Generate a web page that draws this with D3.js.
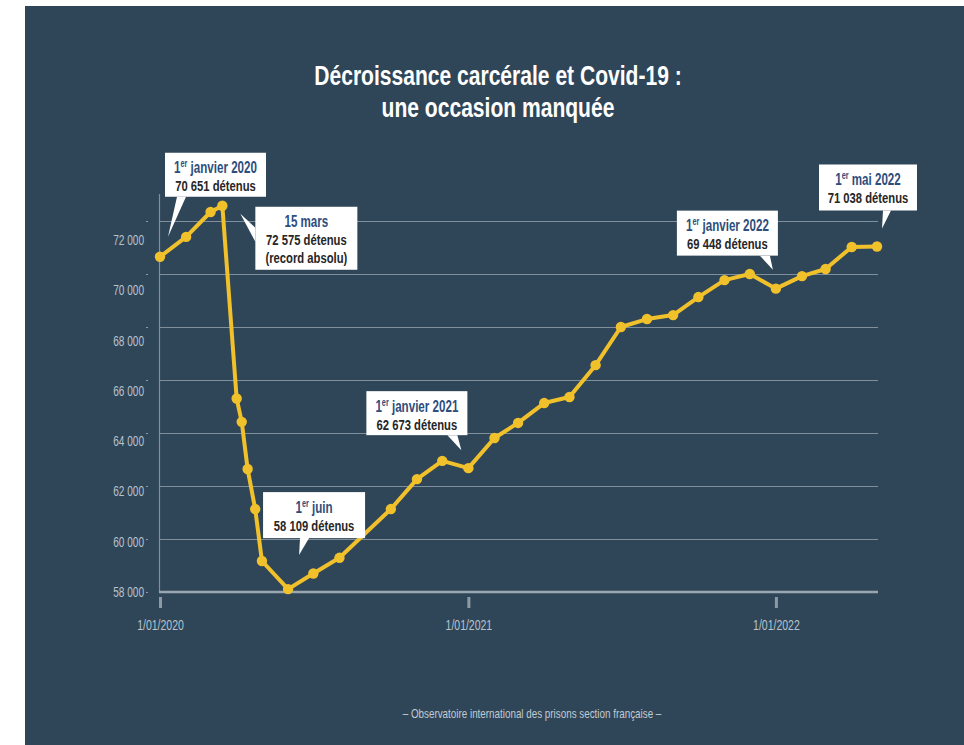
<!DOCTYPE html>
<html lang="fr">
<head>
<meta charset="utf-8">
<script src="https://cdn.jsdelivr.net/npm/d3@7"></script>
<style>
  html, body { margin: 0; padding: 0; background: #ffffff; }
  svg { display: block; }
  svg text { font-family: "Liberation Sans", Arial, sans-serif; }
</style>
</head>
<body>
<script>
// ---------------- DATA ----------------
const titleLines = ["Décroissance carcérale et Covid-19 :", "une occasion manquée"];
const sourceText = "– Observatoire international des prisons section française –";

const dates = [
  "2020-01-01","2020-02-01","2020-03-01","2020-03-15","2020-04-01","2020-04-07","2020-04-14","2020-04-23","2020-05-01",
  "2020-06-01","2020-07-01","2020-08-01","2020-10-01","2020-11-01","2020-12-01",
  "2021-01-01","2021-02-01","2021-03-01","2021-04-01","2021-05-01","2021-06-01","2021-07-01","2021-08-01",
  "2021-09-01","2021-10-01","2021-11-01","2021-12-01",
  "2022-01-01","2022-02-01","2022-03-01","2022-04-01","2022-05-01"
];
const prisoners = [
  70651, 71400, 72340, 72575, 65300, 64420, 62640, 61130, 59170,
  58109, 58700, 59290, 61130, 62260, 62950,
  62673, 63810, 64380, 65130, 65360, 66560, 68000, 68300,
  68450, 69130, 69770, 70000,
  69448, 69920, 70190, 71020, 71038
];

const yTicks = [58000, 60000, 62000, 64000, 66000, 68000, 70000, 72000];
const xTicks = ["2020-01-01", "2021-01-01", "2022-01-01"];

const annotDates = ["2020-01-01", "2020-03-15", "2020-06-01", "2021-01-01", "2022-01-01", "2022-05-01"];
const annotHeads = ["1er janvier 2020", "15 mars", "1er juin", "1er janvier 2021", "1er janvier 2022", "1er mai 2022"];
const annotExtra = ["", "(record absolu)", "", "", "", ""];

// ---------------- LAYOUT ----------------
const W = 964, H = 745;
const calloutLayout = [
  { dx: 5,    dy: -104, w: 101, h: 44, tip: [8, -20],  base: [[12, 44], [21, 44]] },
  { dx: 33,   dy: 1,    w: 102, h: 63, tip: [18, 8],   base: [[0, 21], [0, 35]] },
  { dx: -25,  dy: -97,  w: 102, h: 46, tip: [11, -34], base: [[37, 46], [46, 46]] },
  { dx: -102, dy: -77,  w: 101, h: 44, tip: [-7, -18], base: [[81, 44], [91, 44]] },
  { dx: -99,  dy: -78,  w: 101, h: 45, tip: [-3, -19], base: [[83, 45], [93, 45]] },
  { dx: -58,  dy: -82,  w: 98,  h: 46, tip: [5, -18],  base: [[64, 46], [72, 46]] }
];

const parse = d3.timeParse("%Y-%m-%d");
const fr = d3.formatLocale({ decimal: ",", thousands: "\u00a0", grouping: [3], currency: ["", " €"] });
const fmt = fr.format(",d");

// horizontal squeeze imitating the condensed typeface of the original
function squeeze(sel, s) {
  sel.each(function () {
    const t = d3.select(this);
    const tx = +t.attr("x") || 0, ty = +t.attr("y") || 0;
    t.attr("x", 0).attr("y", 0).attr("transform", `translate(${tx},${ty}) scale(${s},1)`);
  });
}

const data = dates.map((d, i) => ({ date: parse(d), value: prisoners[i] }));

const svg = d3.select("body").append("svg").attr("width", W).attr("height", H);

// panel
svg.append("rect").attr("x", 25).attr("y", 6).attr("width", W - 25).attr("height", H - 6).attr("fill", "#2f4659");

// scales
const x = d3.scaleTime().domain([parse("2020-01-01"), parse("2022-05-01")]).range([160, 877]);
const y = d3.scaleLinear().domain([58000, 72000]).range([592, 221]);
const yLab = d3.scaleLinear().domain([58000, 72000]).range([592, 240]);

// gridlines
const grid = svg.append("g").attr("transform", `translate(159,0)`)
  .call(d3.axisRight(y).tickValues(yTicks.slice(1)).tickSize(719).tickFormat(""));
grid.select(".domain").remove();
grid.selectAll(".tick line").attr("stroke", "#7f8f9c").attr("stroke-width", 1.2);

// small tick marks at gridline positions
const smallT = svg.append("g").attr("transform", `translate(146,0)`)
  .call(d3.axisRight(y).tickValues(yTicks).tickSize(2).tickFormat(""));
smallT.select(".domain").remove();
smallT.selectAll(".tick line").attr("stroke", "#8d9aa5").attr("stroke-width", 1);

// vertical axis line
svg.append("line").attr("x1", 159.5).attr("x2", 159.5).attr("y1", 194).attr("y2", y(58000))
  .attr("stroke", "#7f8f9c").attr("stroke-width", 1.2);

// baseline
svg.append("line").attr("x1", 159).attr("x2", 878).attr("y1", y(58000)).attr("y2", y(58000))
  .attr("stroke", "#9aa6b0").attr("stroke-width", 2.4);

// y labels
const yAx = svg.append("g").attr("transform", "translate(144,0)")
  .call(d3.axisLeft(yLab).tickValues(yTicks).tickSize(0).tickPadding(0).tickFormat(d => fmt(d)));
yAx.select(".domain").remove();
yAx.attr("font-family", null);
yAx.selectAll("text").attr("fill", "#b9c3cc").attr("font-size", 14).call(squeeze, 0.72);

// x axis
const xAx = svg.append("g").attr("transform", `translate(0,597)`)
  .call(d3.axisBottom(x).tickValues(xTicks.map(parse)).tickSize(11).tickPadding(12)
    .tickFormat(d3.timeFormat("%-d/%m/%Y")));
xAx.select(".domain").remove();
xAx.attr("font-family", null);
xAx.selectAll(".tick line").attr("stroke", "#8d9aa5").attr("stroke-width", 3);
xAx.selectAll("text").attr("fill", "#b9c3cc").attr("font-size", 14).call(squeeze, 0.75);

// line
const line = d3.line().x(d => x(d.date)).y(d => y(d.value));
svg.append("path").datum(data).attr("d", line).attr("fill", "none")
  .attr("stroke", "#f1c12c").attr("stroke-width", 4).attr("stroke-linejoin", "round");
svg.append("g").selectAll("circle").data(data).join("circle")
  .attr("cx", d => x(d.date)).attr("cy", d => y(d.value)).attr("r", 5.2).attr("fill", "#f1c12c");

// title
svg.append("g").selectAll("text").data(titleLines).join("text")
  .attr("x", 498).attr("y", (d, i) => 85 + i * 32).attr("text-anchor", "middle")
  .attr("fill", "#ffffff").attr("font-weight", "bold").attr("font-size", 27)
  .text(d => d).call(squeeze, 0.78);

// source
svg.append("text").attr("x", 532).attr("y", 718).attr("text-anchor", "middle")
  .attr("fill", "#c2cad2").attr("font-size", 12).text(sourceText).call(squeeze, 0.82);

// callouts
annotDates.forEach((ds, i) => {
  const d = data.find(p => +p.date === +parse(ds));
  const L = calloutLayout[i];
  const px = x(d.date), py = y(d.value);
  const bx = px + L.dx, by = py + L.dy;
  const g = svg.append("g");
  g.append("rect").attr("x", bx).attr("y", by).attr("width", L.w).attr("height", L.h).attr("fill", "#ffffff");
  const pts = [[bx + L.base[0][0], by + L.base[0][1]], [px + L.tip[0], py + L.tip[1]], [bx + L.base[1][0], by + L.base[1][1]]];
  g.append("path").attr("d", "M" + pts.map(p => p.join(",")).join("L") + "Z").attr("fill", "#ffffff");
  const cx = bx + L.w / 2;
  const head = annotHeads[i];
  const t1 = g.append("text").attr("x", cx).attr("y", by + 20.5).attr("text-anchor", "middle")
    .attr("fill", "#2d4d7c").attr("font-weight", "bold").attr("font-size", 16);
  if (head.startsWith("1er")) {
    t1.append("tspan").text("1");
    t1.append("tspan").attr("font-size", 10).attr("dy", -6).text("er");
    t1.append("tspan").attr("dy", 6).text(head.slice(3));
  } else {
    t1.text(head);
  }
  t1.call(squeeze, 0.725);
  g.append("text").attr("x", cx).attr("y", by + 38.5).attr("text-anchor", "middle")
    .attr("fill", "#262626").attr("font-weight", "bold").attr("font-size", 15)
    .text(fmt(d.value) + " détenus").call(squeeze, 0.75);
  if (annotExtra[i]) {
    g.append("text").attr("x", cx).attr("y", by + 56.5).attr("text-anchor", "middle")
      .attr("fill", "#262626").attr("font-weight", "bold").attr("font-size", 15)
      .text(annotExtra[i]).call(squeeze, 0.75);
  }
});
</script>
</body>
</html>
